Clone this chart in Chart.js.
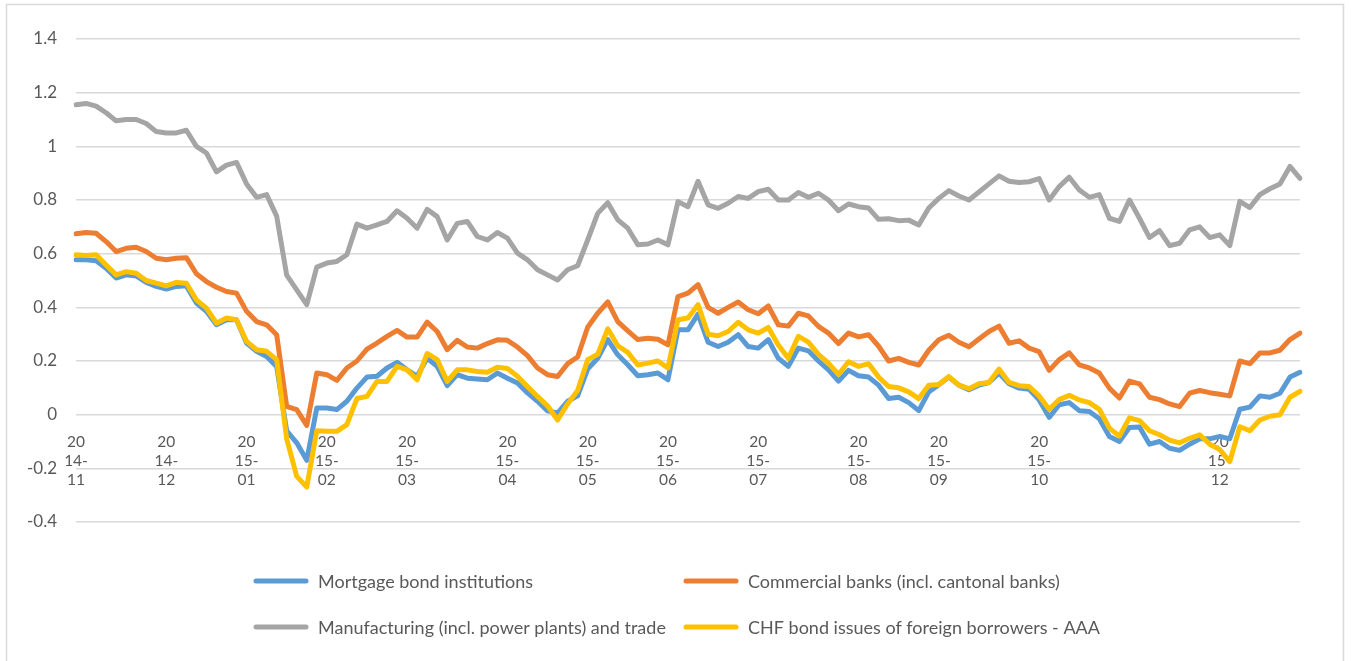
<!DOCTYPE html>
<html>
<head>
<meta charset="utf-8">
<script src="https://cdn.jsdelivr.net/npm/chart.js@4.4.1/dist/chart.umd.min.js"></script>
<style>
  html, body { margin: 0; padding: 0; background: #ffffff; overflow: hidden; }
  canvas { display: block; }
</style>
</head>
<body>
<canvas id="yields" width="1351" height="661"></canvas>
<script>
// Yields by borrower group, one observation per step (Nov 2014 - Dec 2015)
const mortgageBonds = [
  0.577, 0.577, 0.574, 0.546, 0.509, 0.521, 0.517, 0.493, 0.478, 0.468, 0.478, 0.48, 0.416, 0.385, 0.335, 0.354, 0.354, 0.267, 0.236, 0.217, 0.18, -0.06, -0.105, -0.17, 0.025,
  0.025, 0.019, 0.05, 0.099, 0.14, 0.143, 0.174, 0.195, 0.167, 0.143, 0.21, 0.18, 0.108, 0.149, 0.136, 0.133, 0.13, 0.155, 0.136, 0.118, 0.081, 0.05, 0.014, 0.006,
  0.05, 0.07, 0.17, 0.21, 0.28, 0.223, 0.186, 0.145, 0.149, 0.155, 0.13, 0.316, 0.316, 0.375, 0.27, 0.254, 0.27, 0.298, 0.254, 0.248, 0.28, 0.21, 0.18, 0.248, 0.238,
  0.20, 0.167, 0.125, 0.165, 0.145, 0.14, 0.11, 0.06, 0.065, 0.045, 0.015, 0.085, 0.112, 0.14, 0.11, 0.093, 0.11, 0.12, 0.155, 0.115, 0.099, 0.095, 0.055, -0.01,
  0.037, 0.045, 0.015, 0.012, -0.015, -0.081, -0.1, -0.048, -0.046, -0.11, -0.1, -0.125, -0.133, -0.11, -0.09, -0.09, -0.081, -0.09, 0.02, 0.028, 0.07, 0.065, 0.08, 0.14, 0.158
];
const commercialBanks = [
  0.674, 0.679, 0.676, 0.645, 0.608, 0.62, 0.624, 0.608, 0.583, 0.577, 0.583, 0.585, 0.525, 0.496, 0.475, 0.459, 0.453, 0.385, 0.347, 0.335, 0.298, 0.031, 0.019, -0.04, 0.155,
  0.149, 0.128, 0.174, 0.2, 0.244, 0.267, 0.292, 0.314, 0.289, 0.289, 0.345, 0.31, 0.242, 0.277, 0.252, 0.248, 0.265, 0.279, 0.277, 0.252, 0.22, 0.174, 0.149, 0.142,
  0.19, 0.215, 0.326, 0.378, 0.42, 0.347, 0.312, 0.28, 0.285, 0.281, 0.26, 0.44, 0.453, 0.485, 0.40, 0.378, 0.40, 0.42, 0.391, 0.376, 0.405, 0.335, 0.33, 0.378, 0.368,
  0.329, 0.304, 0.265, 0.304, 0.29, 0.298, 0.255, 0.20, 0.21, 0.195, 0.185, 0.24, 0.279, 0.296, 0.27, 0.253, 0.282, 0.31, 0.33, 0.266, 0.275, 0.248, 0.235, 0.165,
  0.205, 0.23, 0.186, 0.174, 0.155, 0.099, 0.062, 0.125, 0.115, 0.065, 0.056, 0.04, 0.03, 0.08, 0.09, 0.082, 0.076, 0.07, 0.2, 0.19, 0.23, 0.23, 0.24, 0.28, 0.304
];
const manufacturing = [
  1.155, 1.16, 1.15, 1.125, 1.095, 1.10, 1.10, 1.085, 1.055, 1.05, 1.05, 1.06, 1.0, 0.975, 0.905, 0.93, 0.94, 0.86, 0.81, 0.82, 0.74, 0.52, 0.465, 0.41, 0.55,
  0.565, 0.571, 0.596, 0.71, 0.695, 0.707, 0.72, 0.76, 0.732, 0.695, 0.765, 0.738, 0.651, 0.713, 0.72, 0.664, 0.651, 0.679, 0.658, 0.602, 0.577, 0.54, 0.521, 0.502,
  0.54, 0.555, 0.651, 0.75, 0.79, 0.726, 0.695, 0.633, 0.636, 0.651, 0.633, 0.794, 0.775, 0.87, 0.782, 0.769, 0.788, 0.813, 0.806, 0.831, 0.84, 0.80, 0.80, 0.828, 0.81,
  0.825, 0.80, 0.76, 0.785, 0.775, 0.77, 0.728, 0.73, 0.723, 0.725, 0.707, 0.77, 0.806, 0.835, 0.815, 0.80, 0.83, 0.86, 0.89, 0.87, 0.865, 0.868, 0.88, 0.80,
  0.85, 0.885, 0.837, 0.81, 0.82, 0.732, 0.72, 0.80, 0.732, 0.66, 0.686, 0.63, 0.639, 0.689, 0.70, 0.66, 0.67, 0.63, 0.795, 0.772, 0.82, 0.842, 0.86, 0.925, 0.881
];
const foreignAAA = [
  0.596, 0.593, 0.596, 0.558, 0.521, 0.533, 0.527, 0.5, 0.49, 0.48, 0.493, 0.49, 0.428, 0.397, 0.341, 0.36, 0.354, 0.273, 0.242, 0.236, 0.205, -0.09, -0.23, -0.27, -0.06,
  -0.062, -0.062, -0.037, 0.06, 0.068, 0.124, 0.124, 0.18, 0.167, 0.13, 0.228, 0.205, 0.124, 0.167, 0.167, 0.161, 0.158, 0.177, 0.172, 0.143, 0.105, 0.068, 0.033, -0.02,
  0.04, 0.09, 0.205, 0.225, 0.32, 0.257, 0.232, 0.185, 0.192, 0.2, 0.174, 0.354, 0.36, 0.41, 0.30, 0.294, 0.31, 0.344, 0.316, 0.304, 0.325, 0.26, 0.21, 0.292, 0.27,
  0.225, 0.192, 0.15, 0.197, 0.18, 0.19, 0.14, 0.105, 0.1, 0.085, 0.06, 0.11, 0.112, 0.142, 0.11, 0.097, 0.115, 0.12, 0.17, 0.12, 0.108, 0.105, 0.07, 0.02,
  0.056, 0.072, 0.055, 0.045, 0.02, -0.05, -0.08, -0.012, -0.022, -0.06, -0.075, -0.095, -0.105, -0.088, -0.075, -0.11, -0.13, -0.175, -0.045, -0.06, -0.02, -0.006, 0.0, 0.065, 0.087
];

// Month labels and the observation each one sits on
const monthTicks = ['2014-11', '2014-12', '2015-01', '2015-02', '2015-03', '2015-04', '2015-05',
                    '2015-06', '2015-07', '2015-08', '2015-09', '2015-10', '2015-12'];
const monthTickIndex = [0, 9, 17, 25, 33, 43, 51, 59, 68, 78, 86, 96, 114];

const seriesNames = [
  'Mortgage bond institutions',
  'Commercial banks (incl. cantonal banks)',
  'Manufacturing (incl. power plants) and trade',
  'CHF bond issues of foreign borrowers - AAA'
];
const seriesColors = ['#5B9BD5', '#ED7D31', '#A5A5A5', '#FFC000'];

const categories = mortgageBonds.map((_, i) => {
  const k = monthTickIndex.indexOf(i);
  return k >= 0 ? monthTicks[k] : '';
});

// "2014-11" is shown wrapped as 20 / 14- / 11
function wrapMonth(s) {
  return [s.slice(0, 2), s.slice(2, 5), s.slice(5)];
}

// 1, 0.8, 0, -0.2 ... (no trailing zeros, no negative zero)
function axisNumber(v) {
  const r = Math.round(v * 10) / 10;
  return r === 0 ? '0' : String(r);
}

const TEXT = '#595959';
const FONT = 'Lato, "Liberation Sans", sans-serif';

const framePlugin = {
  id: 'frame',
  beforeDraw(chart) {
    const c = chart.ctx;
    c.save();
    c.fillStyle = '#ffffff';
    c.fillRect(0, 0, chart.width, chart.height);
    c.strokeStyle = '#D9D9D9';
    c.lineWidth = 1.5;
    c.strokeRect(6.5, 4.5, 1337, 700);
    c.restore();
  }
};

// Two-column legend below the plot
const legendGrid = {
  id: 'legendGrid',
  afterDraw(chart) {
    const c = chart.ctx;
    const cols = [254, 684];
    const rows = [581, 627];
    chart.data.datasets.forEach((ds, i) => {
      const x = cols[i % 2];
      const y = rows[Math.floor(i / 2)];
      c.save();
      c.strokeStyle = ds.borderColor;
      c.lineWidth = 5;
      c.lineCap = 'round';
      c.beginPath();
      c.moveTo(x + 2, y);
      c.lineTo(x + 52, y);
      c.stroke();
      c.fillStyle = TEXT;
      c.font = '18px ' + FONT;
      c.textBaseline = 'middle';
      c.fillText(ds.label, x + 64, y + 1);
      c.restore();
    });
  }
};

const seriesValues = [mortgageBonds, commercialBanks, manufacturing, foreignAAA];
const drawOrder = [3, 2, 1, 0];

new Chart(document.getElementById('yields'), {
  type: 'line',
  data: {
    labels: categories,
    datasets: seriesValues.map((vals, i) => ({
      label: seriesNames[i],
      data: vals,
      borderColor: seriesColors[i],
      backgroundColor: seriesColors[i],
      order: drawOrder[i],
      fill: false
    }))
  },
  options: {
    responsive: false,
    animation: false,
    layout: { padding: { left: 0, top: 39, right: 51, bottom: 139 } },
    plugins: {
      legend: { display: false },
      tooltip: { enabled: false },
      title: { display: false }
    },
    elements: {
      point: { radius: 0, hoverRadius: 0 },
      line: { tension: 0, borderWidth: 5, borderCapStyle: 'round', borderJoinStyle: 'round' }
    },
    scales: {
      x: {
        type: 'category',
        position: { y: 0 },
        grid: { display: false },
        border: { display: false },
        ticks: {
          autoSkip: false,
          maxRotation: 0,
          minRotation: 0,
          padding: 10,
          color: TEXT,
          font: { family: FONT, size: 15.5, lineHeight: 1.23 },
          callback(value) {
            const s = this.getLabelForValue(value);
            return s ? wrapMonth(s) : '';
          }
        },
        afterFit(scale) { scale.height = 0; }
      },
      y: {
        min: -0.4,
        max: 1.4,
        ticks: {
          stepSize: 0.2,
          padding: 19,
          color: TEXT,
          font: { family: FONT, size: 17 },
          callback: (v) => axisNumber(v)
        },
        grid: { color: '#D9D9D9', lineWidth: 1.5, drawTicks: false },
        border: { display: false },
        afterFit(scale) { scale.width = 76; }
      }
    }
  },
  plugins: [framePlugin, legendGrid]
});
</script>
</body>
</html>
